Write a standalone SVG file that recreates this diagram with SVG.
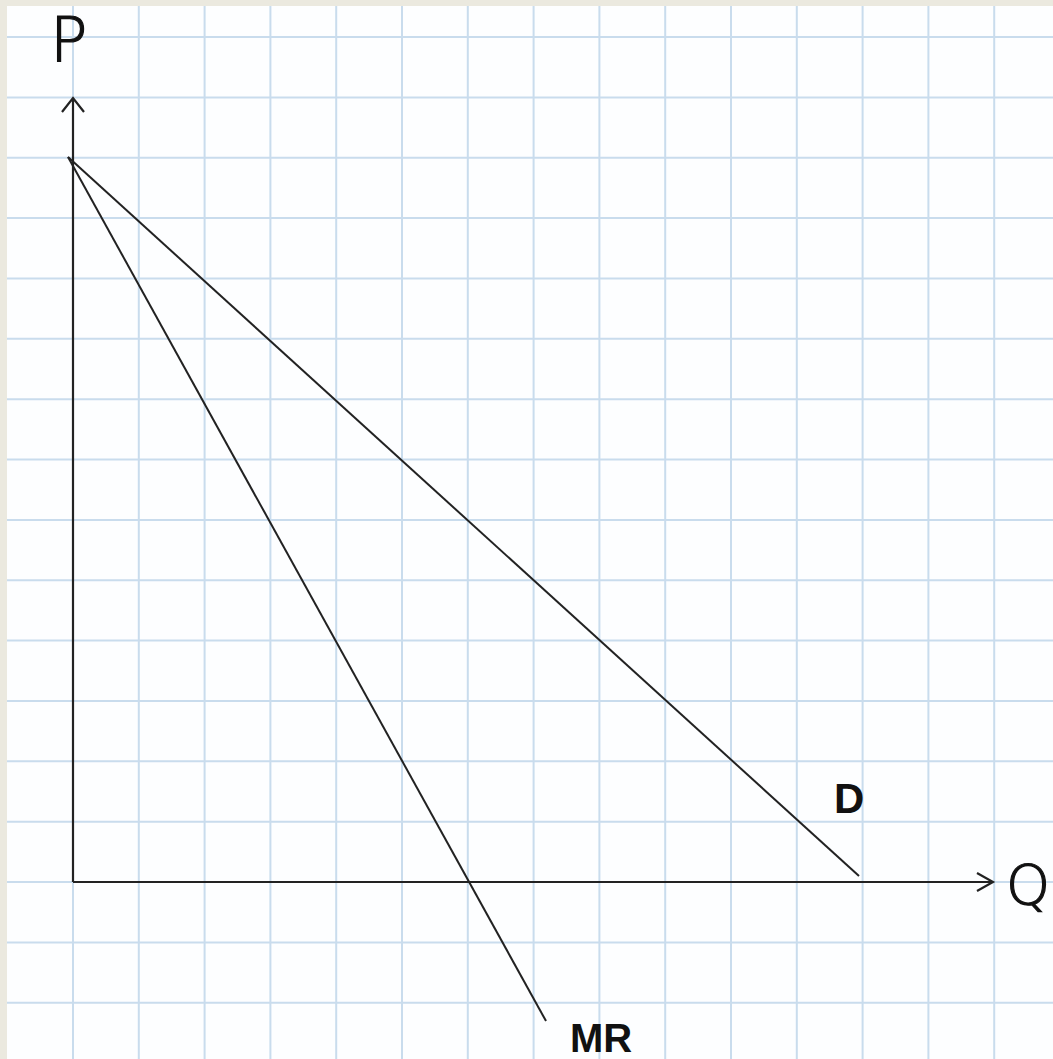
<svg xmlns="http://www.w3.org/2000/svg" width="1053" height="1059" viewBox="0 0 1053 1059">
<style>
.grid{stroke:#c9dced;stroke-width:2;fill:none}
.ax{stroke:#222;stroke-width:2.2;fill:none}
.cv{stroke:#222;stroke-width:2;fill:none}
.hand{font-family:"DejaVu Sans",sans-serif;font-weight:200;fill:#111;stroke:#111;stroke-width:1.2}
.lbl{font-family:"Liberation Sans",Arial,sans-serif;font-weight:bold;fill:#111}
</style>
<rect x="0" y="0" width="1053" height="1059" fill="#ebe9df"/>
<rect x="7" y="6" width="1046" height="1053" fill="#fdfeff"/>
<g id="grid" class="grid">
<path d="M73 6V1059M138.8 6V1059M204.6 6V1059M270.4 6V1059M336.2 6V1059M402 6V1059M467.8 6V1059M533.6 6V1059M599.4 6V1059M665.2 6V1059M731 6V1059M796.8 6V1059M862.6 6V1059M928.4 6V1059M994.2 6V1059"/>
<path d="M7 37H1053M7 97.4H1053M7 157.7H1053M7 218.1H1053M7 278.4H1053M7 338.8H1053M7 399.2H1053M7 459.5H1053M7 519.9H1053M7 580.2H1053M7 640.6H1053M7 701H1053M7 761.3H1053M7 821.7H1053M7 882H1053M7 942.4H1053M7 1002.8H1053"/>
</g>
<g id="axes">
<path class="ax" d="M73 882V98M62 112L73 98L84 112"/>
<path class="ax" d="M73 882H993M977 873L993 882L977 891"/>
</g>
<g id="connectors">
<path id="D-curve" class="cv" d="M68 157L859 876"/>
<path id="MR-curve" class="cv" d="M68 157L546 1021"/>
</g>
<g id="label-P"><text class="hand" x="50" y="62" font-size="62">P</text></g>
<g id="label-Q"><text class="hand" x="1006" y="904" font-size="56">Q</text></g>
<g id="label-D"><text class="lbl" x="834" y="813" font-size="42">D</text></g>
<g id="label-MR"><text class="lbl" x="570" y="1052" font-size="40">MR</text></g>
</svg>
